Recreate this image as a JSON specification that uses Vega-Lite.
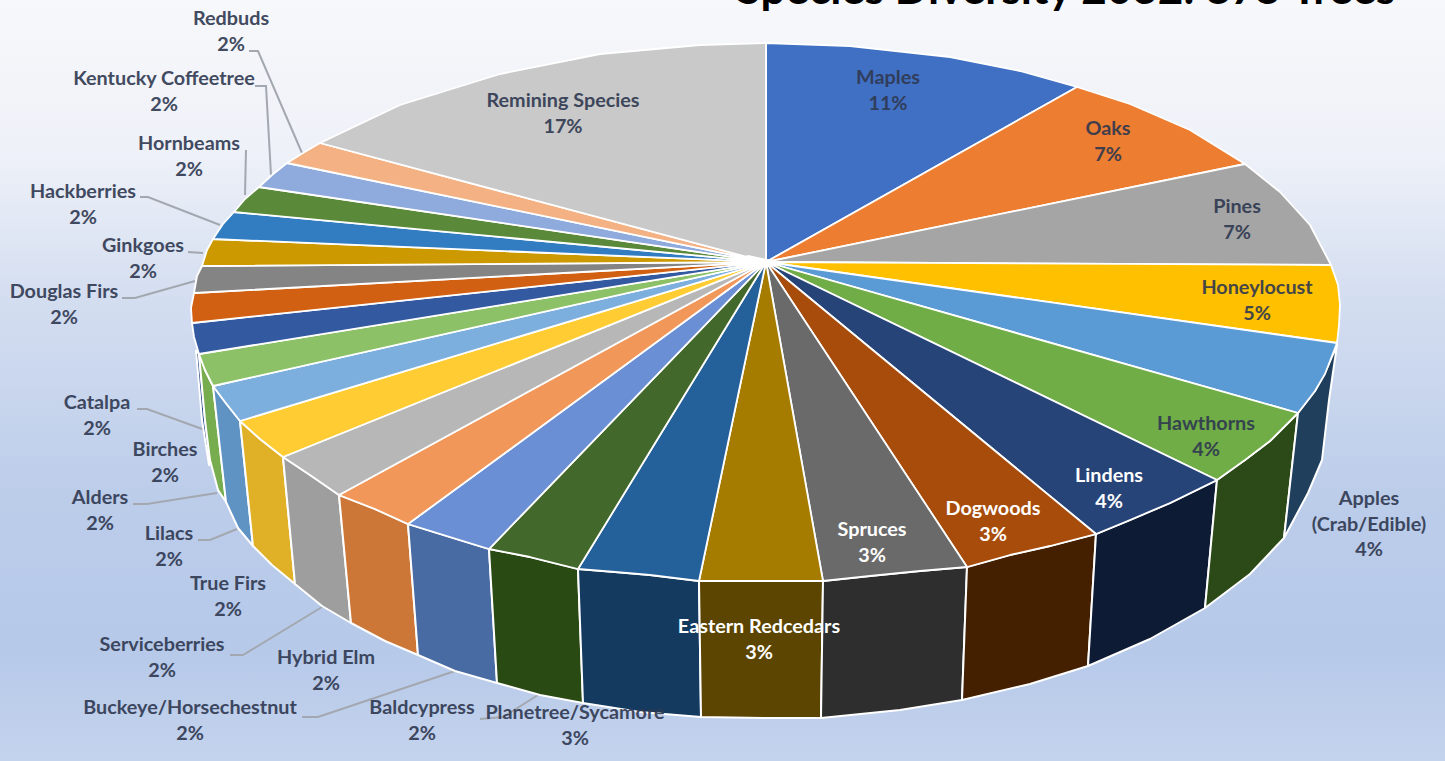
{"$schema":"https://vega.github.io/schema/vega-lite/v6.json","autosize":{"type":"none"},"width":1445,"height":761,"padding":0,"background":"#c5d3ec","config":{"view":{"stroke":null}},
"datasets":{
"sheet":[{"x0":0,"x1":1445,"y0":0,"y1":761}],
"walls":[
{"piece":"Birches side","seq":0,"x":196,"y":350},{"piece":"Birches side","seq":1,"x":202,"y":420},{"piece":"Birches side","seq":2,"x":209,"y":465},{"piece":"Birches side","seq":3,"x":210,"y":460},{"piece":"Birches side","seq":4,"x":205,"y":420},{"piece":"Birches side","seq":5,"x":199,"y":354},{"piece":"Birches side","seq":6,"x":196,"y":350},
{"piece":"Alders side","seq":0,"x":199,"y":354},{"piece":"Alders side","seq":1,"x":205,"y":370},{"piece":"Alders side","seq":2,"x":213,"y":386},{"piece":"Alders side","seq":3,"x":226,"y":502},{"piece":"Alders side","seq":4,"x":218,"y":490},{"piece":"Alders side","seq":5,"x":210,"y":460},{"piece":"Alders side","seq":6,"x":205,"y":420},{"piece":"Alders side","seq":7,"x":199,"y":354},
{"piece":"Lilacs side","seq":0,"x":213,"y":386},{"piece":"Lilacs side","seq":1,"x":225,"y":402},{"piece":"Lilacs side","seq":2,"x":240,"y":421},{"piece":"Lilacs side","seq":3,"x":253,"y":546},{"piece":"Lilacs side","seq":4,"x":238,"y":528},{"piece":"Lilacs side","seq":5,"x":226,"y":502},{"piece":"Lilacs side","seq":6,"x":213,"y":386},
{"piece":"True Firs side","seq":0,"x":240,"y":421},{"piece":"True Firs side","seq":1,"x":260,"y":439},{"piece":"True Firs side","seq":2,"x":283,"y":457},{"piece":"True Firs side","seq":3,"x":295,"y":584},{"piece":"True Firs side","seq":4,"x":272,"y":565},{"piece":"True Firs side","seq":5,"x":253,"y":546},{"piece":"True Firs side","seq":6,"x":240,"y":421},
{"piece":"Serviceberries side","seq":0,"x":283,"y":457},{"piece":"Serviceberries side","seq":1,"x":310,"y":475},{"piece":"Serviceberries side","seq":2,"x":339,"y":495},{"piece":"Serviceberries side","seq":3,"x":351,"y":623},{"piece":"Serviceberries side","seq":4,"x":322,"y":606},{"piece":"Serviceberries side","seq":5,"x":295,"y":584},{"piece":"Serviceberries side","seq":6,"x":283,"y":457},
{"piece":"Hybrid Elm side","seq":0,"x":339,"y":495},{"piece":"Hybrid Elm side","seq":1,"x":375,"y":509},{"piece":"Hybrid Elm side","seq":2,"x":408,"y":524},{"piece":"Hybrid Elm side","seq":3,"x":418,"y":655},{"piece":"Hybrid Elm side","seq":4,"x":385,"y":641},{"piece":"Hybrid Elm side","seq":5,"x":351,"y":623},{"piece":"Hybrid Elm side","seq":6,"x":339,"y":495},
{"piece":"Buckeye side","seq":0,"x":408,"y":524},{"piece":"Buckeye side","seq":1,"x":450,"y":537},{"piece":"Buckeye side","seq":2,"x":489,"y":549},{"piece":"Buckeye side","seq":3,"x":497,"y":683},{"piece":"Buckeye side","seq":4,"x":455,"y":671},{"piece":"Buckeye side","seq":5,"x":418,"y":655},{"piece":"Buckeye side","seq":6,"x":408,"y":524},
{"piece":"Baldcypress side","seq":0,"x":489,"y":549},{"piece":"Baldcypress side","seq":1,"x":530,"y":557},{"piece":"Baldcypress side","seq":2,"x":578,"y":569},{"piece":"Baldcypress side","seq":3,"x":583,"y":703},{"piece":"Baldcypress side","seq":4,"x":540,"y":695},{"piece":"Baldcypress side","seq":5,"x":497,"y":683},{"piece":"Baldcypress side","seq":6,"x":489,"y":549},
{"piece":"Planetree side","seq":0,"x":578,"y":569},{"piece":"Planetree side","seq":1,"x":615,"y":572},{"piece":"Planetree side","seq":2,"x":650,"y":575},{"piece":"Planetree side","seq":3,"x":699,"y":581},{"piece":"Planetree side","seq":4,"x":701,"y":717},{"piece":"Planetree side","seq":5,"x":640,"y":712},{"piece":"Planetree side","seq":6,"x":583,"y":703},{"piece":"Planetree side","seq":7,"x":578,"y":569},
{"piece":"Redcedars side","seq":0,"x":699,"y":581},{"piece":"Redcedars side","seq":1,"x":766,"y":581},{"piece":"Redcedars side","seq":2,"x":823,"y":581},{"piece":"Redcedars side","seq":3,"x":821,"y":718},{"piece":"Redcedars side","seq":4,"x":766,"y":718},{"piece":"Redcedars side","seq":5,"x":701,"y":717},{"piece":"Redcedars side","seq":6,"x":699,"y":581},
{"piece":"Spruces side","seq":0,"x":823,"y":581},{"piece":"Spruces side","seq":1,"x":870,"y":576},{"piece":"Spruces side","seq":2,"x":920,"y":571},{"piece":"Spruces side","seq":3,"x":967,"y":567},{"piece":"Spruces side","seq":4,"x":962,"y":700},{"piece":"Spruces side","seq":5,"x":900,"y":710},{"piece":"Spruces side","seq":6,"x":821,"y":718},{"piece":"Spruces side","seq":7,"x":823,"y":581},
{"piece":"Dogwoods side","seq":0,"x":967,"y":567},{"piece":"Dogwoods side","seq":1,"x":1010,"y":555},{"piece":"Dogwoods side","seq":2,"x":1050,"y":546},{"piece":"Dogwoods side","seq":3,"x":1096,"y":534},{"piece":"Dogwoods side","seq":4,"x":1088,"y":666},{"piece":"Dogwoods side","seq":5,"x":1030,"y":684},{"piece":"Dogwoods side","seq":6,"x":962,"y":700},{"piece":"Dogwoods side","seq":7,"x":967,"y":567},
{"piece":"Lindens side","seq":0,"x":1096,"y":534},{"piece":"Lindens side","seq":1,"x":1130,"y":520},{"piece":"Lindens side","seq":2,"x":1170,"y":503},{"piece":"Lindens side","seq":3,"x":1217,"y":480},{"piece":"Lindens side","seq":4,"x":1205,"y":608},{"piece":"Lindens side","seq":5,"x":1150,"y":639},{"piece":"Lindens side","seq":6,"x":1088,"y":666},{"piece":"Lindens side","seq":7,"x":1096,"y":534},
{"piece":"Hawthorns side","seq":0,"x":1217,"y":480},{"piece":"Hawthorns side","seq":1,"x":1245,"y":460},{"piece":"Hawthorns side","seq":2,"x":1270,"y":441},{"piece":"Hawthorns side","seq":3,"x":1298,"y":413},{"piece":"Hawthorns side","seq":4,"x":1284,"y":538},{"piece":"Hawthorns side","seq":5,"x":1250,"y":574},{"piece":"Hawthorns side","seq":6,"x":1205,"y":608},{"piece":"Hawthorns side","seq":7,"x":1217,"y":480},
{"piece":"Apples side","seq":0,"x":1298,"y":413},{"piece":"Apples side","seq":1,"x":1315,"y":391},{"piece":"Apples side","seq":2,"x":1327,"y":368},{"piece":"Apples side","seq":3,"x":1337,"y":345},{"piece":"Apples side","seq":4,"x":1329,"y":400},{"piece":"Apples side","seq":5,"x":1322,"y":460},{"piece":"Apples side","seq":6,"x":1308,"y":493},{"piece":"Apples side","seq":7,"x":1284,"y":538},{"piece":"Apples side","seq":8,"x":1298,"y":413}
],
"tops":[
{"piece":"Maples","seq":0,"x":766,"y":262},{"piece":"Maples","seq":1,"x":766,"y":43},{"piece":"Maples","seq":2,"x":850,"y":46},{"piece":"Maples","seq":3,"x":950,"y":57},{"piece":"Maples","seq":4,"x":1020,"y":71},{"piece":"Maples","seq":5,"x":1077,"y":87},{"piece":"Maples","seq":6,"x":766,"y":262},
{"piece":"Oaks","seq":0,"x":766,"y":262},{"piece":"Oaks","seq":1,"x":1077,"y":87},{"piece":"Oaks","seq":2,"x":1130,"y":104},{"piece":"Oaks","seq":3,"x":1190,"y":130},{"piece":"Oaks","seq":4,"x":1245,"y":164},{"piece":"Oaks","seq":5,"x":766,"y":262},
{"piece":"Pines","seq":0,"x":766,"y":262},{"piece":"Pines","seq":1,"x":1245,"y":164},{"piece":"Pines","seq":2,"x":1280,"y":192},{"piece":"Pines","seq":3,"x":1310,"y":225},{"piece":"Pines","seq":4,"x":1331,"y":265},{"piece":"Pines","seq":5,"x":766,"y":262},
{"piece":"Honeylocust","seq":0,"x":766,"y":262},{"piece":"Honeylocust","seq":1,"x":1331,"y":265},{"piece":"Honeylocust","seq":2,"x":1338,"y":285},{"piece":"Honeylocust","seq":3,"x":1340,"y":305},{"piece":"Honeylocust","seq":4,"x":1339,"y":325},{"piece":"Honeylocust","seq":5,"x":1337,"y":343},{"piece":"Honeylocust","seq":6,"x":766,"y":262},
{"piece":"Apples","seq":0,"x":766,"y":262},{"piece":"Apples","seq":1,"x":1337,"y":343},{"piece":"Apples","seq":2,"x":1325,"y":374},{"piece":"Apples","seq":3,"x":1315,"y":391},{"piece":"Apples","seq":4,"x":1298,"y":413},{"piece":"Apples","seq":5,"x":766,"y":262},
{"piece":"Hawthorns","seq":0,"x":766,"y":262},{"piece":"Hawthorns","seq":1,"x":1298,"y":413},{"piece":"Hawthorns","seq":2,"x":1270,"y":441},{"piece":"Hawthorns","seq":3,"x":1245,"y":460},{"piece":"Hawthorns","seq":4,"x":1217,"y":480},{"piece":"Hawthorns","seq":5,"x":766,"y":262},
{"piece":"Lindens","seq":0,"x":766,"y":262},{"piece":"Lindens","seq":1,"x":1217,"y":480},{"piece":"Lindens","seq":2,"x":1170,"y":503},{"piece":"Lindens","seq":3,"x":1130,"y":520},{"piece":"Lindens","seq":4,"x":1096,"y":534},{"piece":"Lindens","seq":5,"x":766,"y":262},
{"piece":"Dogwoods","seq":0,"x":766,"y":262},{"piece":"Dogwoods","seq":1,"x":1096,"y":534},{"piece":"Dogwoods","seq":2,"x":1050,"y":546},{"piece":"Dogwoods","seq":3,"x":1010,"y":555},{"piece":"Dogwoods","seq":4,"x":967,"y":567},{"piece":"Dogwoods","seq":5,"x":766,"y":262},
{"piece":"Spruces","seq":0,"x":766,"y":262},{"piece":"Spruces","seq":1,"x":967,"y":567},{"piece":"Spruces","seq":2,"x":920,"y":571},{"piece":"Spruces","seq":3,"x":870,"y":576},{"piece":"Spruces","seq":4,"x":823,"y":581},{"piece":"Spruces","seq":5,"x":766,"y":262},
{"piece":"Redcedars","seq":0,"x":766,"y":262},{"piece":"Redcedars","seq":1,"x":823,"y":581},{"piece":"Redcedars","seq":2,"x":766,"y":581},{"piece":"Redcedars","seq":3,"x":699,"y":581},{"piece":"Redcedars","seq":4,"x":766,"y":262},
{"piece":"Planetree","seq":0,"x":766,"y":262},{"piece":"Planetree","seq":1,"x":699,"y":581},{"piece":"Planetree","seq":2,"x":650,"y":575},{"piece":"Planetree","seq":3,"x":615,"y":572},{"piece":"Planetree","seq":4,"x":578,"y":569},{"piece":"Planetree","seq":5,"x":766,"y":262},
{"piece":"Baldcypress","seq":0,"x":766,"y":262},{"piece":"Baldcypress","seq":1,"x":578,"y":569},{"piece":"Baldcypress","seq":2,"x":530,"y":557},{"piece":"Baldcypress","seq":3,"x":489,"y":549},{"piece":"Baldcypress","seq":4,"x":766,"y":262},
{"piece":"Buckeye","seq":0,"x":766,"y":262},{"piece":"Buckeye","seq":1,"x":489,"y":549},{"piece":"Buckeye","seq":2,"x":450,"y":537},{"piece":"Buckeye","seq":3,"x":408,"y":524},{"piece":"Buckeye","seq":4,"x":766,"y":262},
{"piece":"Hybrid Elm","seq":0,"x":766,"y":262},{"piece":"Hybrid Elm","seq":1,"x":408,"y":524},{"piece":"Hybrid Elm","seq":2,"x":375,"y":509},{"piece":"Hybrid Elm","seq":3,"x":339,"y":495},{"piece":"Hybrid Elm","seq":4,"x":766,"y":262},
{"piece":"Serviceberries","seq":0,"x":766,"y":262},{"piece":"Serviceberries","seq":1,"x":339,"y":495},{"piece":"Serviceberries","seq":2,"x":310,"y":475},{"piece":"Serviceberries","seq":3,"x":283,"y":457},{"piece":"Serviceberries","seq":4,"x":766,"y":262},
{"piece":"True Firs","seq":0,"x":766,"y":262},{"piece":"True Firs","seq":1,"x":283,"y":457},{"piece":"True Firs","seq":2,"x":260,"y":439},{"piece":"True Firs","seq":3,"x":240,"y":421},{"piece":"True Firs","seq":4,"x":766,"y":262},
{"piece":"Lilacs","seq":0,"x":766,"y":262},{"piece":"Lilacs","seq":1,"x":240,"y":421},{"piece":"Lilacs","seq":2,"x":225,"y":402},{"piece":"Lilacs","seq":3,"x":213,"y":386},{"piece":"Lilacs","seq":4,"x":766,"y":262},
{"piece":"Alders","seq":0,"x":766,"y":262},{"piece":"Alders","seq":1,"x":213,"y":386},{"piece":"Alders","seq":2,"x":205,"y":370},{"piece":"Alders","seq":3,"x":199,"y":354},{"piece":"Alders","seq":4,"x":766,"y":262},
{"piece":"Birches","seq":0,"x":766,"y":262},{"piece":"Birches","seq":1,"x":199,"y":354},{"piece":"Birches","seq":2,"x":194,"y":337},{"piece":"Birches","seq":3,"x":192,"y":323},{"piece":"Birches","seq":4,"x":766,"y":262},
{"piece":"Catalpa","seq":0,"x":766,"y":262},{"piece":"Catalpa","seq":1,"x":192,"y":323},{"piece":"Catalpa","seq":2,"x":191,"y":308},{"piece":"Catalpa","seq":3,"x":194,"y":293},{"piece":"Catalpa","seq":4,"x":766,"y":262},
{"piece":"Douglas Firs","seq":0,"x":766,"y":262},{"piece":"Douglas Firs","seq":1,"x":194,"y":293},{"piece":"Douglas Firs","seq":2,"x":197,"y":276},{"piece":"Douglas Firs","seq":3,"x":202,"y":266},{"piece":"Douglas Firs","seq":4,"x":766,"y":262},
{"piece":"Ginkgoes","seq":0,"x":766,"y":262},{"piece":"Ginkgoes","seq":1,"x":202,"y":266},{"piece":"Ginkgoes","seq":2,"x":207,"y":250},{"piece":"Ginkgoes","seq":3,"x":213,"y":239},{"piece":"Ginkgoes","seq":4,"x":766,"y":262},
{"piece":"Hackberries","seq":0,"x":766,"y":262},{"piece":"Hackberries","seq":1,"x":213,"y":239},{"piece":"Hackberries","seq":2,"x":223,"y":224},{"piece":"Hackberries","seq":3,"x":234,"y":212},{"piece":"Hackberries","seq":4,"x":766,"y":262},
{"piece":"Hornbeams","seq":0,"x":766,"y":262},{"piece":"Hornbeams","seq":1,"x":234,"y":212},{"piece":"Hornbeams","seq":2,"x":245,"y":199},{"piece":"Hornbeams","seq":3,"x":259,"y":187},{"piece":"Hornbeams","seq":4,"x":766,"y":262},
{"piece":"Kentucky","seq":0,"x":766,"y":262},{"piece":"Kentucky","seq":1,"x":259,"y":187},{"piece":"Kentucky","seq":2,"x":272,"y":175},{"piece":"Kentucky","seq":3,"x":287,"y":163},{"piece":"Kentucky","seq":4,"x":766,"y":262},
{"piece":"Redbuds","seq":0,"x":766,"y":262},{"piece":"Redbuds","seq":1,"x":287,"y":163},{"piece":"Redbuds","seq":2,"x":303,"y":153},{"piece":"Redbuds","seq":3,"x":320,"y":143},{"piece":"Redbuds","seq":4,"x":766,"y":262},
{"piece":"Remining","seq":0,"x":766,"y":262},{"piece":"Remining","seq":1,"x":320,"y":143},{"piece":"Remining","seq":2,"x":400,"y":105},{"piece":"Remining","seq":3,"x":500,"y":74},{"piece":"Remining","seq":4,"x":600,"y":54},{"piece":"Remining","seq":5,"x":700,"y":45},{"piece":"Remining","seq":6,"x":766,"y":43},{"piece":"Remining","seq":7,"x":766,"y":262},
{"piece":"Hub","seq":0,"x":732,"y":261},{"piece":"Hub","seq":1,"x":748,"y":256},{"piece":"Hub","seq":2,"x":772,"y":261},{"piece":"Hub","seq":3,"x":755,"y":268},{"piece":"Hub","seq":4,"x":732,"y":261}
],
"leaders":[
{"name":"Redbuds","seq":0,"x":249,"y":51},{"name":"Redbuds","seq":1,"x":258,"y":51},{"name":"Redbuds","seq":2,"x":302,"y":153},
{"name":"Kentucky","seq":0,"x":255,"y":86},{"name":"Kentucky","seq":1,"x":266,"y":86},{"name":"Kentucky","seq":2,"x":271,"y":175},
{"name":"Hornbeams","seq":0,"x":246,"y":150},{"name":"Hornbeams","seq":1,"x":245,"y":195},
{"name":"Hackberries","seq":0,"x":140,"y":197},{"name":"Hackberries","seq":1,"x":148,"y":197},{"name":"Hackberries","seq":2,"x":220,"y":225},
{"name":"Ginkgoes","seq":0,"x":188,"y":252},{"name":"Ginkgoes","seq":1,"x":203,"y":253},
{"name":"Douglas","seq":0,"x":122,"y":298},{"name":"Douglas","seq":1,"x":135,"y":298},{"name":"Douglas","seq":2,"x":195,"y":281},
{"name":"Catalpa","seq":0,"x":137,"y":409},{"name":"Catalpa","seq":1,"x":147,"y":409},{"name":"Catalpa","seq":2,"x":205,"y":430},
{"name":"Alders","seq":0,"x":133,"y":504},{"name":"Alders","seq":1,"x":147,"y":504},{"name":"Alders","seq":2,"x":217,"y":493},
{"name":"Lilacs","seq":0,"x":198,"y":540},{"name":"Lilacs","seq":1,"x":210,"y":540},{"name":"Lilacs","seq":2,"x":237,"y":529},
{"name":"Serviceberries","seq":0,"x":230,"y":655},{"name":"Serviceberries","seq":1,"x":243,"y":655},{"name":"Serviceberries","seq":2,"x":322,"y":607},
{"name":"Buckeye","seq":0,"x":302,"y":717},{"name":"Buckeye","seq":1,"x":318,"y":717},{"name":"Buckeye","seq":2,"x":455,"y":671},
{"name":"Planetree","seq":0,"x":480,"y":719},{"name":"Planetree","seq":1,"x":503,"y":717},{"name":"Planetree","seq":2,"x":538,"y":695}
],
"labels":[
{"label":"Redbuds\n2%","x":231,"y":19,"tone":"dark"},
{"label":"Kentucky Coffeetree\n2%","x":164,"y":79,"tone":"dark"},
{"label":"Hornbeams\n2%","x":189,"y":144,"tone":"dark"},
{"label":"Hackberries\n2%","x":83,"y":192,"tone":"dark"},
{"label":"Ginkgoes\n2%","x":143,"y":246,"tone":"dark"},
{"label":"Douglas Firs\n2%","x":64,"y":292,"tone":"dark"},
{"label":"Catalpa\n2%","x":97,"y":403,"tone":"dark"},
{"label":"Birches\n2%","x":165,"y":450,"tone":"dark"},
{"label":"Alders\n2%","x":100,"y":498,"tone":"dark"},
{"label":"Lilacs\n2%","x":169,"y":534,"tone":"dark"},
{"label":"True Firs\n2%","x":228,"y":584,"tone":"dark"},
{"label":"Serviceberries\n2%","x":162,"y":645,"tone":"dark"},
{"label":"Hybrid Elm\n2%","x":326,"y":658,"tone":"dark"},
{"label":"Buckeye/Horsechestnut\n2%","x":190,"y":708,"tone":"dark"},
{"label":"Baldcypress\n2%","x":422,"y":708,"tone":"dark"},
{"label":"Planetree/Sycamore\n3%","x":575,"y":713,"tone":"dark"},
{"label":"Remining Species\n17%","x":563,"y":101,"tone":"dark"},
{"label":"Maples\n11%","x":888,"y":78,"tone":"dark"},
{"label":"Oaks\n7%","x":1108,"y":129,"tone":"dark"},
{"label":"Pines\n7%","x":1237,"y":207,"tone":"dark"},
{"label":"Honeylocust\n5%","x":1257,"y":288,"tone":"dark"},
{"label":"Hawthorns\n4%","x":1206,"y":424,"tone":"dark"},
{"label":"Apples\n(Crab/Edible)\n4%","x":1369,"y":499,"tone":"dark"},
{"label":"Lindens\n4%","x":1109,"y":476,"tone":"light"},
{"label":"Dogwoods\n3%","x":993,"y":509,"tone":"light"},
{"label":"Spruces\n3%","x":872,"y":530,"tone":"light"},
{"label":"Eastern Redcedars\n3%","x":759,"y":627,"tone":"light"}
],
"heading":[{"label":"Species Diversity 2032: 875 Trees","x":1066,"y":4}]
},
"layer":[
{"data":{"name":"sheet"},"mark":{"type":"rect","color":{"gradient":"linear","x1":0,"y1":0,"x2":0,"y2":1,"stops":[{"offset":0,"color":"#f7f8fb"},{"offset":0.2,"color":"#eef1f8"},{"offset":0.4,"color":"#d3ddf0"},{"offset":0.65,"color":"#bccdea"},{"offset":0.85,"color":"#b6c9e9"},{"offset":1,"color":"#c4d3ed"}]}},
"encoding":{"x":{"field":"x0","type":"quantitative","scale":{"domain":[0,1445],"nice":false,"zero":false},"axis":null},"x2":{"field":"x1"},"y":{"field":"y0","type":"quantitative","scale":{"domain":[761,0],"nice":false,"zero":false},"axis":null},"y2":{"field":"y1"}}},
{"data":{"name":"leaders"},"mark":{"type":"line","color":"#a3a8b0","strokeWidth":2,"interpolate":"linear"},
"encoding":{"x":{"field":"x","type":"quantitative"},"y":{"field":"y","type":"quantitative"},"detail":{"field":"name"},"order":{"field":"seq"}}},
{"data":{"name":"walls"},"mark":{"type":"line","filled":true,"stroke":"#ffffff","strokeWidth":2,"strokeJoin":"round"},
"encoding":{"x":{"field":"x","type":"quantitative"},"y":{"field":"y","type":"quantitative"},"order":{"field":"seq"},
"color":{"field":"piece","type":"nominal","legend":null,"scale":{
"domain":["Birches side","Alders side","Lilacs side","True Firs side","Serviceberries side","Hybrid Elm side","Buckeye side","Baldcypress side","Planetree side","Redcedars side","Spruces side","Dogwoods side","Lindens side","Hawthorns side","Apples side","Maples","Oaks","Pines","Honeylocust","Apples","Hawthorns","Lindens","Dogwoods","Spruces","Redcedars","Planetree","Baldcypress","Buckeye","Hybrid Elm","Serviceberries","True Firs","Lilacs","Alders","Birches","Catalpa","Douglas Firs","Ginkgoes","Hackberries","Hornbeams","Kentucky","Redbuds","Remining","Hub"],
"range":["#2a4a85","#78ad4f","#5f93c4","#e0b027","#9e9e9e","#cc7637","#486ba3","#2a4a14","#143a5f","#5c4500","#2e2e2e","#452000","#0e1b35","#2c4a17","#1f3f5c","#4070c4","#ed7d31","#a5a5a5","#ffc000","#5b9bd5","#70ad47","#264478","#a84c0c","#6a6a6a","#a67c00","#24609a","#43682b","#6b8fd4","#f1975a","#b7b7b7","#ffcd33","#7cafdd","#8cc168","#335aa1","#d26012","#848484","#cc9a00","#327dc2","#5a8a39","#8faadc","#f4b183","#c9c9c9","#ffffff"]}}}},
{"data":{"name":"tops"},"mark":{"type":"line","filled":true,"stroke":"#ffffff","strokeWidth":1.8,"strokeJoin":"round"},
"encoding":{"x":{"field":"x","type":"quantitative"},"y":{"field":"y","type":"quantitative"},"order":{"field":"seq"},
"color":{"field":"piece","type":"nominal","legend":null}}},
{"data":{"name":"labels"},"mark":{"type":"text","font":"Lato","fontWeight":"bold","fontSize":19.8,"lineBreak":"\n","lineHeight":25.5,"align":"center","baseline":"middle"},
"encoding":{"x":{"field":"x","type":"quantitative"},"y":{"field":"y","type":"quantitative"},"text":{"field":"label"},
"fill":{"field":"tone","type":"nominal","legend":null,"scale":{"domain":["dark","light"],"range":["#2f3850","#ffffff"]}},
"opacity":{"field":"tone","type":"nominal","legend":null,"scale":{"domain":["dark","light"],"range":[0.9,1]}}}},
{"data":{"name":"heading"},"mark":{"type":"text","font":"Lato","fontWeight":"bold","fontSize":44,"align":"center","baseline":"alphabetic","color":"#000000"},
"encoding":{"x":{"field":"x","type":"quantitative"},"y":{"field":"y","type":"quantitative"},"text":{"field":"label"}}}
]}
